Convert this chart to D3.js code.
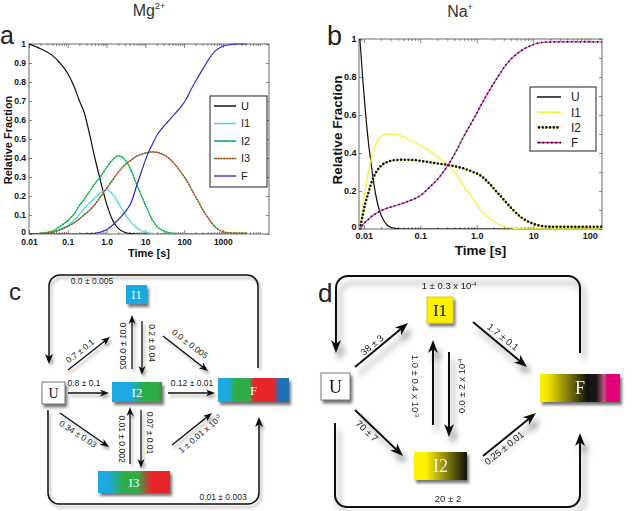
<!DOCTYPE html>
<html><head><meta charset="utf-8">
<script src="https://cdn.jsdelivr.net/npm/d3@7"></script>
<style>body{margin:0;background:#fff}svg{display:block}</style>
</head><body><svg id="fig" width="635" height="511"></svg>
<script>
// ---------- DATA ----------
const seriesA = ["U", "I1", "I2", "I3", "F"];
const timeA = [0.01, 0.02, 0.04, 0.063, 0.1, 0.15, 0.2, 0.26, 0.37, 0.5, 0.75, 1.0, 1.5, 2.0, 3.0, 4.4, 6.0, 8.0, 11, 15, 20, 28, 40, 56, 80, 110, 160, 220, 320, 450, 650, 1000, 1500, 2200, 4000];
const aU  = [1.0, 0.975, 0.94, 0.9, 0.845, 0.77, 0.70, 0.645, 0.52, 0.40, 0.255, 0.16, 0.065, 0.03, 0.008, 0.002, 0, 0, 0, 0, 0, 0, 0, 0, 0, 0, 0, 0, 0, 0, 0, 0, 0, 0, 0];
const aI1 = [0, 0.002, 0.01, 0.025, 0.045, 0.075, 0.105, 0.13, 0.165, 0.19, 0.222, 0.232, 0.205, 0.165, 0.105, 0.06, 0.033, 0.017, 0.007, 0.003, 0.001, 0, 0, 0, 0, 0, 0, 0, 0, 0, 0, 0, 0, 0, 0];
const aI2 = [0, 0.004, 0.015, 0.04, 0.07, 0.11, 0.15, 0.18, 0.225, 0.265, 0.31, 0.35, 0.395, 0.412, 0.39, 0.33, 0.26, 0.20, 0.135, 0.075, 0.04, 0.018, 0.007, 0.003, 0.001, 0, 0, 0, 0, 0, 0, 0, 0, 0, 0];
const aI3 = [0, 0.002, 0.008, 0.022, 0.04, 0.06, 0.08, 0.10, 0.126, 0.155, 0.205, 0.24, 0.29, 0.325, 0.365, 0.39, 0.41, 0.42, 0.428, 0.432, 0.43, 0.42, 0.40, 0.37, 0.33, 0.29, 0.23, 0.18, 0.12, 0.075, 0.035, 0.012, 0.006, 0.005, 0.005];
const aF  = [0, 0, 0, 0, 0, 0, 0, 0.001, 0.002, 0.004, 0.012, 0.022, 0.05, 0.075, 0.115, 0.17, 0.255, 0.33, 0.41, 0.47, 0.52, 0.56, 0.595, 0.63, 0.665, 0.705, 0.77, 0.82, 0.875, 0.925, 0.965, 0.988, 0.996, 1.0, 1.0];

const seriesB = ["U", "I1", "I2", "F"];
const timeB = [0.0085, 0.0095, 0.0105, 0.012, 0.0135, 0.015, 0.017, 0.019, 0.022, 0.026, 0.031, 0.038, 0.046, 0.06, 0.08, 0.105, 0.148, 0.2, 0.31, 0.45, 0.57, 0.86, 1.13, 1.6, 2.24, 3.2, 4.4, 6.2, 8.7, 12, 17, 25, 40, 70, 165];
const bU  = [1.0, 0.80, 0.64, 0.46, 0.34, 0.24, 0.15, 0.095, 0.05, 0.02, 0.008, 0.002, 0, 0, 0, 0, 0, 0, 0, 0, 0, 0, 0, 0, 0, 0, 0, 0, 0, 0, 0, 0, 0, 0, 0];
const bI1 = [0, 0.11, 0.2, 0.3, 0.37, 0.42, 0.46, 0.48, 0.495, 0.5, 0.5, 0.498, 0.49, 0.475, 0.455, 0.435, 0.41, 0.38, 0.337, 0.28, 0.23, 0.16, 0.105, 0.06, 0.03, 0.012, 0.005, 0.001, 0, 0, 0, 0, 0, 0, 0];
const bI2 = [0, 0.07, 0.13, 0.19, 0.24, 0.275, 0.305, 0.325, 0.342, 0.353, 0.36, 0.363, 0.365, 0.364, 0.362, 0.358, 0.351, 0.345, 0.337, 0.327, 0.32, 0.30, 0.284, 0.245, 0.196, 0.145, 0.10, 0.06, 0.035, 0.02, 0.013, 0.012, 0.012, 0.012, 0.012];
const bF  = [0, 0.02, 0.035, 0.05, 0.065, 0.075, 0.085, 0.093, 0.102, 0.11, 0.117, 0.125, 0.132, 0.145, 0.16, 0.18, 0.222, 0.26, 0.337, 0.42, 0.48, 0.574, 0.64, 0.72, 0.79, 0.86, 0.905, 0.94, 0.963, 0.978, 0.984, 0.985, 0.985, 0.985, 0.985];

const xTicksA = [0.01, 0.1, 1, 10, 100, 1000];
const xTickLabelsA = ["0.01", "0.1", "1.0", "10", "100", "1000"];
const yTicksA = [0, 0.1, 0.2, 0.3, 0.4, 0.5, 0.6, 0.7, 0.8, 0.9, 1];
const yTickLabelsA = ["0", "0.1", "0.2", "0.3", "0.4", "0.5", "0.6", "0.7", "0.8", "0.9", "1"];
const xTicksB = [0.01, 0.1, 1, 10, 100];
const xTickLabelsB = ["0.01", "0.1", "1.0", "10", "100"];
const yTicksB = [0, 0.2, 0.4, 0.6, 0.8, 1];
const yTickLabelsB = ["0", "0.2", "0.4", "0.6", "0.8", "1"];

// kinetic scheme rate labels (text, superscript)
const ratesC = [
  ["0.7 ± 0.1", ""], ["0.01 ± 0.002", ""], ["0.2 ± 0.04", ""], ["0.0 ± 0.005", ""],
  ["0.8 ± 0.1", ""], ["0.12 ± 0.01", ""], ["0.34 ± 0.03", ""], ["0.01 ± 0.002", ""],
  ["0.07 ± 0.01", ""], ["1 ± 0.01 x 10", "-3"], ["0.0 ± 0.005", ""], ["0.01 ± 0.003", ""]
];
const ratesD = [
  ["38 ± 3", ""], ["70 ± 7", ""], ["1.0 ± 0.4 x 10", "-3"], ["0.0 ± 2 x 10", "-4"],
  ["1.7 ± 0.1", ""], ["0.25 ± 0.01", ""], ["1 ± 0.3 x 10", "-4"], ["20 ± 2", ""]
];

// ---------- DRAW ----------
const svg = d3.select("#fig");
svg.append("rect").attr("width", 635).attr("height", 511).attr("fill", "#fff");
const SANS = "'Liberation Sans', Arial, sans-serif";
const SERIF = "'Liberation Serif', 'Times New Roman', serif";

const defs = svg.append("defs");
function shadow(id, blur, dx, dy, op) {
  const f = defs.append("filter").attr("id", id).attr("x", "-50%").attr("y", "-50%").attr("width", "200%").attr("height", "200%");
  f.append("feGaussianBlur").attr("in", "SourceAlpha").attr("stdDeviation", blur).attr("result", "b");
  f.append("feOffset").attr("in", "b").attr("dx", dx).attr("dy", dy).attr("result", "o");
  f.append("feComponentTransfer").attr("in", "o").attr("result", "s")
    .append("feFuncA").attr("type", "linear").attr("slope", op);
  const m = f.append("feMerge");
  m.append("feMergeNode").attr("in", "s");
  m.append("feMergeNode").attr("in", "SourceGraphic");
}
shadow("bsh", 1.6, 2, 2.5, 0.55);
shadow("ash", 1.8, 2, 3, 0.35);
shadow("ash2", 3.2, 4, 7, 0.45);

function grad(id, stops) {
  const g = defs.append("linearGradient").attr("id", id).attr("x1", "0").attr("x2", "1").attr("y1", "0").attr("y2", "0");
  stops.forEach(s => g.append("stop").attr("offset", s[0]).attr("stop-color", s[1]));
}
grad("gI2c", [[0, "#1ba9e1"], [0.38, "#1ba9e1"], [0.62, "#2fae4a"], [0.9, "#2fae4a"], [1, "#3f8f3c"]]);
grad("gI3c", [[0, "#1ba9e1"], [0.14, "#1ba9e1"], [0.36, "#2fae4a"], [0.55, "#2fae4a"], [0.74, "#e8252b"], [1, "#e8252b"]]);
grad("gFc", [[0, "#1ba9e1"], [0.14, "#1ba9e1"], [0.24, "#2fae4a"], [0.44, "#2fae4a"], [0.5, "#e8252b"], [0.78, "#e8252b"], [0.86, "#1f6fb6"], [1, "#1f6fb6"]]);
grad("gI2d", [[0, "#fff200"], [0.22, "#fff200"], [1, "#111"]]);
grad("gFd", [[0, "#fff200"], [0.1, "#f2e400"], [0.6, "#111"], [0.7, "#151515"], [0.8, "#c4567e"], [0.84, "#e6007e"], [1, "#e6007e"]]);

// ----- plot panels -----
function panel(cfg) {
  const g = svg.append("g");
  const x = d3.scaleLog().domain(cfg.xdom).range([cfg.L, cfg.R]);
  const y = d3.scaleLinear().domain([0, 1]).range([cfg.B, cfg.T]);
  const minor = [];
  for (let e = -3; e <= 4; e++) for (let k = 2; k <= 9; k++) {
    const v = k * Math.pow(10, e);
    if (v > cfg.xdom[0] && v < cfg.xdom[1]) minor.push(v);
  }
  const tickStyle = sel => { sel.select(".domain").remove(); sel.selectAll("line").attr("stroke", "#555").attr("stroke-width", 0.7); };
  // bottom
  g.append("g").attr("transform", `translate(0,${cfg.B})`)
    .call(d3.axisBottom(x).tickValues(cfg.xt).tickFormat((d, i) => cfg.xl[i]).tickSizeInner(-4).tickSizeOuter(0).tickPadding(cfg.xpad))
    .call(tickStyle)
    .call(s => s.selectAll("text").attr("font-family", SANS).attr("font-weight", "bold").attr("font-size", cfg.tfs).attr("fill", "#111"));
  g.append("g").attr("transform", `translate(0,${cfg.B})`)
    .call(d3.axisBottom(x).tickValues(minor).tickFormat("").tickSizeInner(-2).tickSizeOuter(0)).call(tickStyle);
  // top
  g.append("g").attr("transform", `translate(0,${cfg.T})`)
    .call(d3.axisTop(x).tickValues(cfg.xt).tickFormat("").tickSizeInner(-4).tickSizeOuter(0)).call(tickStyle);
  g.append("g").attr("transform", `translate(0,${cfg.T})`)
    .call(d3.axisTop(x).tickValues(minor).tickFormat("").tickSizeInner(-2).tickSizeOuter(0)).call(tickStyle);
  // left / right
  g.append("g").attr("transform", `translate(${cfg.L},0)`)
    .call(d3.axisLeft(y).tickValues(cfg.yt).tickFormat((d, i) => cfg.yl[i]).tickSizeInner(-3).tickSizeOuter(0).tickPadding(cfg.ypad))
    .call(tickStyle)
    .call(s => s.selectAll("text").attr("font-family", SANS).attr("font-weight", "bold").attr("font-size", cfg.tfs).attr("fill", "#111"))
    .call(s => s.selectAll("text").filter(d => d === 0).attr("dy", cfg.zeroDy));
  g.append("g").attr("transform", `translate(${cfg.R},0)`)
    .call(d3.axisRight(y).tickValues(cfg.ytm).tickFormat("").tickSizeInner(-3).tickSizeOuter(0)).call(tickStyle);
  g.append("rect").attr("x", cfg.L).attr("y", cfg.T).attr("width", cfg.R - cfg.L).attr("height", cfg.B - cfg.T)
    .attr("fill", "none").attr("stroke", "#444").attr("stroke-width", 0.8);
  // labels
  g.append("text").attr("x", (cfg.L + cfg.R) / 2).attr("y", cfg.xlabY).attr("text-anchor", "middle")
    .attr("font-family", SANS).attr("font-weight", "bold").attr("font-size", cfg.lfs).attr("fill", "#111").text("Time [s]");
  g.append("text").attr("transform", `translate(${cfg.ylabX},${cfg.ylabCY}) rotate(-90)`).attr("text-anchor", "middle")
    .attr("font-family", SANS).attr("font-weight", "bold").attr("font-size", cfg.lfs).attr("fill", "#111").text("Relative Fraction");
  // curves
  const line = d3.line().x(d => x(d[0])).y(d => y(d[1])).curve(d3.curveMonotoneX);
  const clip = "clip" + cfg.id;
  defs.append("clipPath").attr("id", clip).append("rect").attr("x", cfg.L).attr("y", cfg.T - 3).attr("width", cfg.R - cfg.L).attr("height", cfg.B - cfg.T + 3);
  const cg = g.append("g").attr("clip-path", `url(#${clip})`);
  cfg.series.forEach(s => {
    const pts = cfg.time.map((t, i) => [t, s.v[i]]);
    cg.append("path").attr("d", line(pts)).attr("fill", "none").attr("stroke", s.c).attr("stroke-width", s.w);
    if (s.dot) cg.append("path").attr("d", line(pts)).attr("fill", "none").attr("stroke", s.dot)
      .attr("stroke-width", s.dw).attr("stroke-linecap", "round").attr("stroke-dasharray", `0 ${s.ds}`);
  });
  // legend
  const lg = cfg.leg;
  g.append("rect").attr("x", lg.x).attr("y", lg.y).attr("width", lg.w).attr("height", lg.h)
    .attr("fill", "#fff").attr("stroke", "#333").attr("stroke-width", 1.1);
  cfg.series.forEach((s, i) => {
    const yy = lg.y0 + i * lg.dy;
    g.append("line").attr("x1", lg.x + lg.l0).attr("x2", lg.x + lg.l1).attr("y1", yy).attr("y2", yy)
      .attr("stroke", s.lc || s.c).attr("stroke-width", s.w + 0.3);
    if (s.dot) g.append("line").attr("x1", lg.x + lg.l0 + 2).attr("x2", lg.x + lg.l1).attr("y1", yy).attr("y2", yy)
      .attr("stroke", s.dot).attr("stroke-width", s.dw).attr("stroke-linecap", "round").attr("stroke-dasharray", `0 ${s.ds}`);
    g.append("text").attr("x", lg.x + lg.tx).attr("y", yy).attr("dy", "0.36em").attr("font-family", SANS)
      .attr("font-size", lg.fs).attr("fill", "#222").text(s.name);
  });
}

panel({
  id: "A", L: 29, R: 269, T: 44, B: 234, xdom: [0.01, 15500],
  xt: xTicksA, xl: xTickLabelsA, yt: yTicksA, yl: yTickLabelsA, ytm: yTicksA,
  tfs: 8.5, lfs: 11, xpad: 5, ypad: 3, xlabY: 257, ylabX: 12, ylabCY: 140, zeroDy: "0.1em",
  time: timeA,
  series: [
    {name: "U", v: aU, c: "#111", w: 1.2},
    {name: "I1", v: aI1, c: "#3fd8e4", w: 1.2},
    {name: "I2", v: aI2, c: "#27df6a", w: 1.2, dot: "#0f9448", dw: 1.6, ds: 2.8, lc: "#1cc08a"},
    {name: "I3", v: aI3, c: "#3cbf4c", w: 1.2, dot: "#e3261d", dw: 1.7, ds: 2.8},
    {name: "F", v: aF, c: "#2a2ad0", w: 1.2, lc: "#4646a8"}
  ],
  leg: {x: 210, y: 96, w: 57, h: 91, y0: 106, dy: 17.5, l0: 4, l1: 26, tx: 31, fs: 11}
});
panel({
  id: "B", L: 359, R: 602, T: 39, B: 229, xdom: [0.0082, 165],
  xt: xTicksB, xl: xTickLabelsB, yt: yTicksB, yl: yTickLabelsB, ytm: [0, 0.1, 0.2, 0.3, 0.4, 0.5, 0.6, 0.7, 0.8, 0.9, 1],
  tfs: 9, lfs: 13.5, xpad: 4, ypad: 2.5, xlabY: 255, ylabX: 342, ylabCY: 130, zeroDy: "0.1em",
  time: timeB,
  series: [
    {name: "U", v: bU, c: "#111", w: 1.2},
    {name: "I1", v: bI1, c: "#f6f03c", w: 1.3},
    {name: "I2", v: bI2, c: "#f6f03c", w: 1.2, dot: "#111", dw: 2.6, ds: 3.7},
    {name: "F", v: bF, c: "#e23ad2", w: 1.3, dot: "#2a0a22", dw: 1.8, ds: 4.3, lc: "#c0207a"}
  ],
  leg: {x: 530, y: 87, w: 66, h: 64, y0: 97, dy: 15.2, l0: 7, l1: 31, tx: 41, fs: 12}
});

// titles and panel letters
function title(x, y, main, sup) {
  const t = svg.append("text").attr("x", x).attr("y", y).attr("text-anchor", "middle")
    .attr("font-family", SANS).attr("font-size", 16).attr("fill", "#333");
  t.append("tspan").text(main);
  t.append("tspan").attr("dy", -7).attr("font-size", 9).text(sup);
}
title(149, 16, "Mg", "2+");
title(460, 17, "Na", "+");
[["a", 0, 44, 25], ["b", 327, 45, 27], ["c", 9, 300, 24], ["d", 318, 302, 26]].forEach(p =>
  svg.append("text").attr("x", p[1]).attr("y", p[2]).attr("font-family", SANS).attr("font-size", p[3]).attr("fill", "#222").text(p[0]));

// ----- diagram helpers -----
function arrow(g, x1, y1, x2, y2, sw, hl, hw) {
  const a = Math.atan2(y2 - y1, x2 - x1), ca = Math.cos(a), sa = Math.sin(a);
  g.append("line").attr("x1", x1).attr("y1", y1).attr("x2", x2 - ca * hl * 0.6).attr("y2", y2 - sa * hl * 0.6)
    .attr("stroke", "#111").attr("stroke-width", sw);
  g.append("path").attr("d", `M0,0L${-hl},${-hw / 2}L${-hl * 0.72},0L${-hl},${hw / 2}Z`)
    .attr("transform", `translate(${x2},${y2}) rotate(${a * 180 / Math.PI})`).attr("fill", "#111");
}
function loop(g, pts, r, sw, hl, hw) {
  const n = pts.length, last = pts[n - 1], prev = pts[n - 2];
  const a = Math.atan2(last[1] - prev[1], last[0] - prev[0]);
  const p = d3.path();
  p.moveTo(pts[0][0], pts[0][1]);
  for (let i = 1; i < n - 1; i++) p.arcTo(pts[i][0], pts[i][1], pts[i + 1][0], pts[i + 1][1], r);
  p.lineTo(last[0] - Math.cos(a) * hl * 0.6, last[1] - Math.sin(a) * hl * 0.6);
  g.append("path").attr("d", p.toString()).attr("fill", "none").attr("stroke", "#111").attr("stroke-width", sw);
  if (hl > 0) g.append("path").attr("d", `M0,0L${-hl},${-hw / 2}L${-hl * 0.72},0L${-hl},${hw / 2}Z`)
    .attr("transform", `translate(${last[0]},${last[1]}) rotate(${a * 180 / Math.PI})`).attr("fill", "#111");
}
function label(g, r, cx, cy, ang, fs, mirror) {
  const t = g.append("text").attr("transform", `translate(${cx},${cy}) rotate(${ang})${mirror ? " scale(1,-1)" : ""}`)
    .attr("text-anchor", "middle").attr("dy", "0.35em").attr("font-family", SANS).attr("font-size", fs).attr("fill", "#222");
  t.append("tspan").text(r[0]);
  if (r[1]) t.append("tspan").attr("dy", -fs * 0.4).attr("font-size", fs * 0.6).text(r[1]);
}
function box(g, x, y, w, h, fill, txt, tc, fs, stroke) {
  g.append("rect").attr("x", x).attr("y", y).attr("width", w).attr("height", h).attr("fill", fill)
    .attr("stroke", stroke || "none").attr("stroke-width", 0.8).attr("filter", "url(#bsh)");
  g.append("text").attr("x", x + w / 2).attr("y", y + h / 2).attr("dy", "0.35em").attr("text-anchor", "middle")
    .attr("font-family", SERIF).attr("font-size", fs).attr("fill", tc).text(txt);
}

// ----- panel c -----
const gc = svg.append("g");
const ac = gc.append("g").attr("filter", "url(#ash)");
loop(ac, [[258, 368], [258, 275], [49, 275], [49, 364]], 11, 1.5, 10, 8);
loop(ac, [[48, 410], [48, 504], [259, 504], [259, 417]], 11, 1.5, 10, 8);
arrow(ac, 68, 370, 110, 337, 1.3, 9, 7);
arrow(ac, 132, 369, 132, 315, 1.3, 9, 7);
arrow(ac, 142, 321, 142, 375, 1.3, 9, 7);
arrow(ac, 163, 336, 208, 371, 1.3, 9, 7);
arrow(ac, 68, 393, 109, 393, 1.3, 9, 7);
arrow(ac, 168, 393, 215, 393, 1.3, 9, 7);
arrow(ac, 60, 413, 109, 447, 1.3, 9, 7);
arrow(ac, 130, 464, 130, 407, 1.3, 9, 7);
arrow(ac, 141, 410, 141, 468, 1.3, 9, 7);
arrow(ac, 172, 445, 212, 413, 1.3, 9, 7);
box(gc, 126, 285, 21, 19, "#1ba9e1", "I1", "#fff", 12.5);
box(gc, 42, 382, 23, 22, "#fff", "U", "#111", 14, "#555");
box(gc, 112, 382, 50, 20, "url(#gI2c)", "I2", "#fff", 13);
box(gc, 218, 378, 71, 24, "url(#gFc)", "F", "#fff", 13);
box(gc, 98, 471, 72, 22, "url(#gI3c)", "I3", "#fff", 13);
label(gc, ratesC[0], 80, 351, -38, 8.5);
label(gc, ratesC[1], 123, 346, 90, 8.5, true);
label(gc, ratesC[2], 152, 343, 90, 8.5);
label(gc, ratesC[3], 190, 344, 37, 8.5);
label(gc, ratesC[4], 84, 383, 0, 8.5);
label(gc, ratesC[5], 192, 383, 0, 8.5);
label(gc, ratesC[6], 78, 434, 33, 8.5);
label(gc, ratesC[7], 122, 439, 90, 8.5);
label(gc, ratesC[8], 150, 433, 90, 8.5);
label(gc, ratesC[9], 200, 434, -40, 8.5);
label(gc, ratesC[10], 92, 281, 0, 8.5);
label(gc, ratesC[11], 223, 497, 0, 8.5);

// ----- panel d -----
const gd = svg.append("g");
const ad = gd.append("g").attr("filter", "url(#ash2)");
loop(ad, [[580, 353], [580, 276], [336, 276], [336, 353]], 12, 2, 13, 10);
loop(ad, [[335, 423], [335, 507], [580, 507], [580, 433]], 12, 2, 13, 10);
arrow(ad, 355, 367, 408, 323, 2, 13, 10);
arrow(ad, 355, 410, 403, 456, 2, 13, 10);
arrow(ad, 433, 425, 433, 340, 2, 13, 10);
arrow(ad, 449, 352, 449, 437, 2, 13, 10);
arrow(ad, 473, 322, 527, 367, 2, 13, 10);
arrow(ad, 483, 456, 536, 413, 2, 13, 10);
box(gd, 427, 297, 26, 26, "#fff200", "I1", "#111", 17, "#cfc400");
box(gd, 321, 373, 29, 27, "#fff", "U", "#111", 18, "#555");
box(gd, 540, 374, 80, 28, "url(#gFd)", "F", "#fff", 18);
box(gd, 414, 452, 53, 28, "url(#gI2d)", "I2", "#eee", 18);
label(gd, ratesD[0], 372, 345, -40, 9.5);
label(gd, ratesD[1], 367, 431, 43, 9.5);
label(gd, ratesD[2], 415, 386, 90, 9.5);
label(gd, ratesD[3], 462, 386, -90, 9.5);
label(gd, ratesD[4], 503, 337, 39, 9.5);
label(gd, ratesD[5], 504, 448, -39, 9.5);
label(gd, ratesD[6], 449, 286, 0, 9.5);
label(gd, ratesD[7], 448, 499, 0, 9.5);
</script></body></html>
